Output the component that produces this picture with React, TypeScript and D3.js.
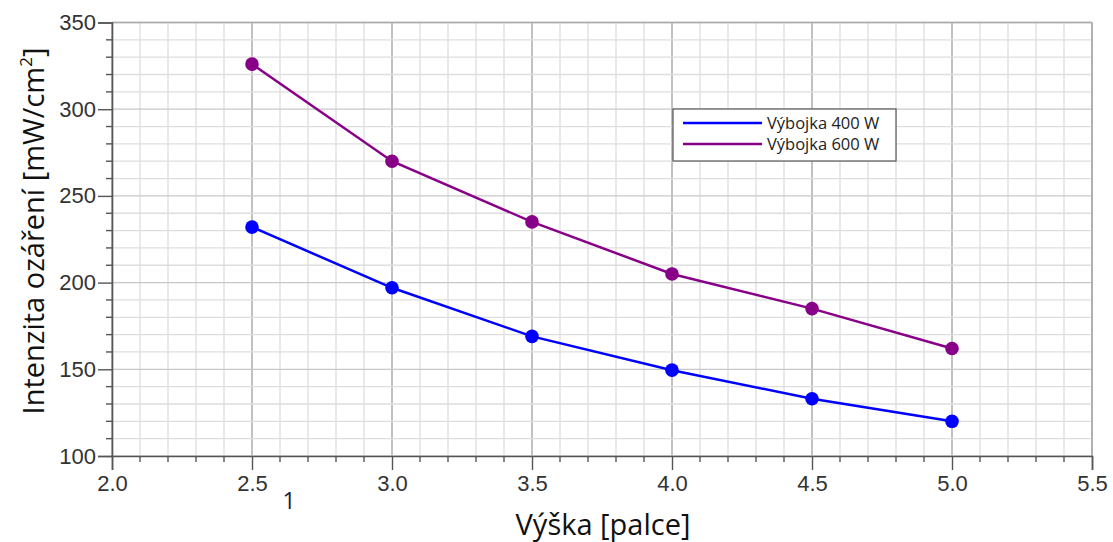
import React, { useRef, useEffect } from 'react';
import * as d3 from 'd3';

const heights = [2.5, 3.0, 3.5, 4.0, 4.5, 5.0];
const lamp400 = [232, 197, 169, 149.5, 133, 120];
const lamp600 = [326, 270, 235, 205, 185, 162];
const seriesNames = ['Výbojka 400 W', 'Výbojka 600 W'];
const seriesColors = ['#0000ff', '#880088'];
const xTicks = [2.0, 2.5, 3.0, 3.5, 4.0, 4.5, 5.0, 5.5];
const yTicks = [100, 150, 200, 250, 300, 350];

const W = 1113;
const H = 542;

export default function App() {
    const ref = useRef<SVGSVGElement>(null);

    useEffect(() => {
        document.body.style.margin = '0';
        if (!ref.current) return;
        const svg = d3.select(ref.current);
        svg.selectAll('*').remove();

        const x = d3.scaleLinear().domain([2.0, 5.5]).range([112, 1092]);
        const y = d3.scaleLinear().domain([100, 350]).range([456, 22.5]);

        /* grid */
        const grid = svg.append('g');
        const xMinor = d3.range(20, 56).map(v => v / 10);
        const yMinor = d3.range(100, 351, 10);
        grid.selectAll('line.vx').data(xMinor).enter().append('line')
            .attr('x1', d => x(d)).attr('x2', d => x(d))
            .attr('y1', y(350)).attr('y2', y(100))
            .attr('stroke', d => (Math.round(d * 10) % 5 === 0 ? '#a0a0a0' : '#dedede'))
            .attr('stroke-width', 1.3);
        grid.selectAll('line.hy').data(yMinor).enter().append('line')
            .attr('x1', x(2.0)).attr('x2', x(5.5))
            .attr('y1', d => y(d)).attr('y2', d => y(d))
            .attr('stroke', d => (d % 50 === 0 ? '#c8c8c8' : '#dedede'))
            .attr('stroke-width', 1.3);
        // plot frame (top / right)
        grid.append('line').attr('x1', x(2.0)).attr('x2', x(5.5)).attr('y1', y(350)).attr('y2', y(350))
            .attr('stroke', '#aaa').attr('stroke-width', 1.5);
        grid.append('line').attr('x1', x(5.5)).attr('x2', x(5.5)).attr('y1', y(350)).attr('y2', y(100))
            .attr('stroke', '#aaa').attr('stroke-width', 1.5);

        /* axes */
        const xAxis = d3.axisBottom(x).tickValues(xTicks).tickSize(14).tickPadding(5)
            .tickFormat(d => d3.format('.1f')(d as number));
        const yAxis = d3.axisLeft(y).tickValues(yTicks).tickSize(14).tickPadding(2)
            .tickFormat(d => String(d));
        const gx = svg.append('g').attr('transform', `translate(0,${y(100)})`).call(xAxis);
        const gy = svg.append('g').attr('transform', `translate(${x(2.0)},0)`).call(yAxis);
        [gx, gy].forEach(g => {
            g.select('.domain').attr('stroke', '#555').attr('stroke-width', 1.6);
            g.selectAll('.tick line').attr('stroke', '#555').attr('stroke-width', 1.4);
            g.selectAll('.tick text')
                .attr('fill', '#333')
                .attr('font-family', '"Liberation Sans", Arial, sans-serif')
                .attr('font-size', 22);
        });
        // minor ticks
        gx.selectAll('line.minor').data(xMinor.filter(d => Math.round(d * 10) % 5 !== 0)).enter()
            .append('line')
            .attr('x1', d => x(d)).attr('x2', d => x(d)).attr('y1', 0).attr('y2', 6)
            .attr('stroke', '#555').attr('stroke-width', 1.4);
        gy.selectAll('line.minor').data(yMinor.filter(d => d % 50 !== 0)).enter()
            .append('line')
            .attr('y1', d => y(d)).attr('y2', d => y(d)).attr('x1', 0).attr('x2', -6)
            .attr('stroke', '#555').attr('stroke-width', 1.4);

        /* series */
        const line = d3.line<[number, number]>().x(d => x(d[0])).y(d => y(d[1]));
        [lamp400, lamp600].forEach((vals, i) => {
            const pts: [number, number][] = heights.map((h, j) => [h, vals[j]]);
            svg.append('path').datum(pts).attr('d', line)
                .attr('fill', 'none').attr('stroke', seriesColors[i]).attr('stroke-width', 2.5);
            svg.append('g').selectAll('circle').data(pts).enter().append('circle')
                .attr('cx', d => x(d[0])).attr('cy', d => y(d[1])).attr('r', 6.8)
                .attr('fill', seriesColors[i]);
        });

        /* legend */
        const lg = svg.append('g').attr('transform', 'translate(673,109)');
        lg.append('rect').attr('width', 223).attr('height', 52)
            .attr('fill', 'white').attr('stroke', '#555').attr('stroke-width', 1.2);
        seriesNames.forEach((name, i) => {
            const ly = 14 + i * 21;
            lg.append('line').attr('x1', 10).attr('x2', 89).attr('y1', ly).attr('y2', ly)
                .attr('stroke', seriesColors[i]).attr('stroke-width', 2.5);
            lg.append('text').attr('x', 94).attr('y', ly + 6).text(name)
                .attr('font-family', '"Open Sans", sans-serif').attr('font-size', 16.5).attr('fill', '#222');
        });

        /* titles */
        svg.append('text').attr('x', 603).attr('y', 535).attr('text-anchor', 'middle')
            .attr('font-family', '"Open Sans", sans-serif').attr('font-size', 29).attr('fill', '#111')
            .text('Výška [palce]');
        const yt = svg.append('text').attr('transform', 'translate(44,231) rotate(-90)')
            .attr('text-anchor', 'middle')
            .attr('font-family', '"Open Sans", sans-serif').attr('font-size', 29).attr('fill', '#111');
        yt.append('tspan').text('Intenzita ozáření [mW/cm');
        yt.append('tspan').attr('font-size', 17).attr('dy', -12).text('2');
        yt.append('tspan').attr('dy', 12).text(']');
        svg.append('text').attr('x', 289).attr('y', 509).attr('text-anchor', 'middle')
            .attr('font-family', '"Open Sans", sans-serif').attr('font-size', 23).attr('fill', '#1a1a3a')
            .text('1');
    }, []);

    return <svg ref={ref} width={W} height={H} style={{ display: 'block', background: 'white' }} />;
}
